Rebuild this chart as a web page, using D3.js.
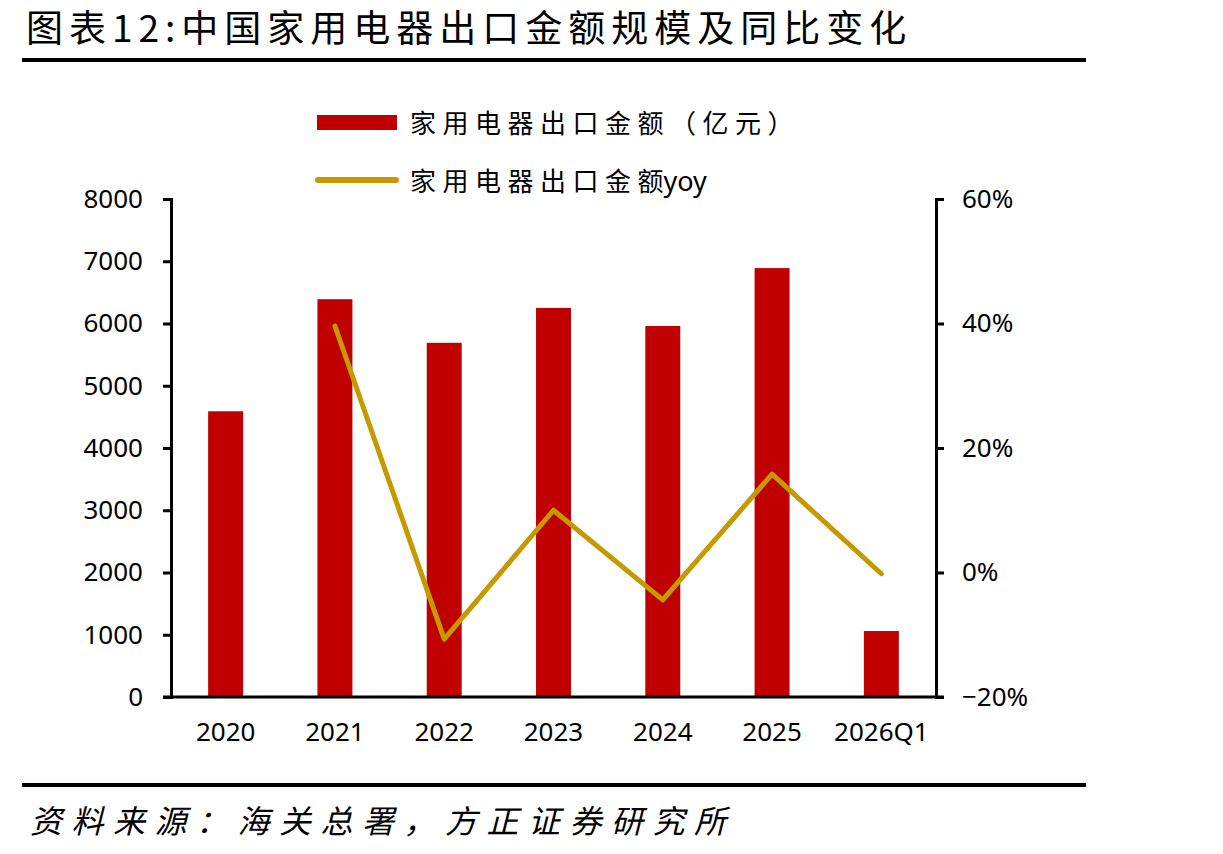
<!DOCTYPE html>
<html>
<head>
<meta charset="utf-8">
<script src="https://cdn.jsdelivr.net/npm/d3@7"></script>
<style>
  body { margin: 0; background: #fff; }
  text { font-family: "Noto Sans CJK SC", "Noto Sans", sans-serif; }
</style>
</head>
<body>
<div id="chart"></div>
<script>
var years = ["2020", "2021", "2022", "2023", "2024", "2025", "2026Q1"];
var amount = [4590, 6390, 5690, 6250, 5960, 6890, 1060];
var yoy = [null, 39.6, -10.7, 10.0, -4.4, 15.8, -0.2];
var leftTicks = [0, 1000, 2000, 3000, 4000, 5000, 6000, 7000, 8000];
var rightTicks = [-20, 0, 20, 40, 60];

var width = 1223, height = 854;
var margin = {left: 171, right: 287, top: 199, bottom: 157};

var svg = d3.select("#chart").append("svg")
    .attr("width", width)
    .attr("height", height);

// title
svg.append("text")
    .attr("x", 26).attr("y", 42)
    .attr("font-size", 37)
    .attr("letter-spacing", 6)
    .text("图表12:中国家用电器出口金额规模及同比变化");
svg.append("rect").attr("x", 22).attr("y", 58).attr("width", 1064).attr("height", 4).attr("fill", "#000");
svg.append("rect").attr("x", 22).attr("y", 783).attr("width", 1064).attr("height", 4).attr("fill", "#000");
svg.append("text")
    .attr("x", 30).attr("y", 833)
    .attr("font-size", 32)
    .attr("font-style", "italic")
    .attr("letter-spacing", 9.5)
    .text("资料来源：海关总署，方正证券研究所");

var x = d3.scaleBand()
    .domain(years)
    .range([margin.left, width - margin.right])
    .paddingInner(0.68)
    .paddingOuter(0.34);

var y = d3.scaleLinear().domain([0, 8000]).range([height - margin.bottom, margin.top]);
var y2 = d3.scaleLinear().domain([-20, 60]).range([height - margin.bottom, margin.top]);

svg.selectAll(".bar")
    .data(amount)
    .enter().append("rect")
    .attr("class", "bar")
    .attr("x", function(d, i) { return x(years[i]); })
    .attr("y", function(d) { return y(d); })
    .attr("width", x.bandwidth())
    .attr("height", function(d) { return y(0) - y(d); })
    .attr("fill", "#C00000");

var line = d3.line()
    .defined(function(d) { return d != null; })
    .x(function(d, i) { return x(years[i]) + x.bandwidth() / 2; })
    .y(function(d) { return y2(d); });

svg.append("path")
    .datum(yoy)
    .attr("d", line)
    .attr("fill", "none")
    .attr("stroke", "#C49A00")
    .attr("stroke-width", 5)
    .attr("stroke-linecap", "round")
    .attr("stroke-linejoin", "round");

function styleAxis(g) {
    g.selectAll(".domain").attr("stroke", "#000").attr("stroke-width", 3);
    g.selectAll(".tick line").attr("stroke", "#000").attr("stroke-width", 3);
    g.selectAll("text").attr("font-size", 26).attr("fill", "#000")
        .style("font-family", "'Noto Sans', sans-serif");
}

var left = svg.append("g")
    .attr("transform", "translate(" + margin.left + ",0)")
    .call(d3.axisLeft(y).tickValues(leftTicks).tickSize(8).tickPadding(20).tickSizeOuter(8)
        .tickFormat(d3.format("d")));
styleAxis(left);

var right = svg.append("g")
    .attr("transform", "translate(" + (width - margin.right) + ",0)")
    .call(d3.axisRight(y2).tickValues(rightTicks).tickSize(8).tickPadding(18).tickSizeOuter(8)
        .tickFormat(function(d) { return (d < 0 ? "\u2212" + (-d) : d) + "%"; }));
styleAxis(right);

var bottom = svg.append("g")
    .attr("transform", "translate(0," + (height - margin.bottom) + ")")
    .call(d3.axisBottom(x).tickSize(0).tickPadding(26).tickSizeOuter(0));
styleAxis(bottom);
bottom.select(".domain").attr("d", "M" + (margin.left - 8) + ",0H" + (width - margin.right + 8));

// legend
var lg = svg.append("g");
lg.append("rect").attr("x", 317).attr("y", 115).attr("width", 80).attr("height", 15).attr("fill", "#C00000");
lg.append("text").attr("x", 410).attr("y", 133).attr("font-size", 26).attr("letter-spacing", 6.5)
    .text("家用电器出口金额（亿元）");
lg.append("line").attr("x1", 318).attr("x2", 396).attr("y1", 180).attr("y2", 180)
    .attr("stroke", "#C49A00").attr("stroke-width", 6).attr("stroke-linecap", "round");
var t2 = lg.append("text").attr("x", 410).attr("y", 191).attr("font-size", 26);
t2.append("tspan").attr("letter-spacing", 6.5).text("家用电器出口金");
t2.append("tspan").text("额");
t2.append("tspan").style("font-family", "'Noto Sans', sans-serif").attr("font-size", 27).text("yoy");
</script>
</body>
</html>
